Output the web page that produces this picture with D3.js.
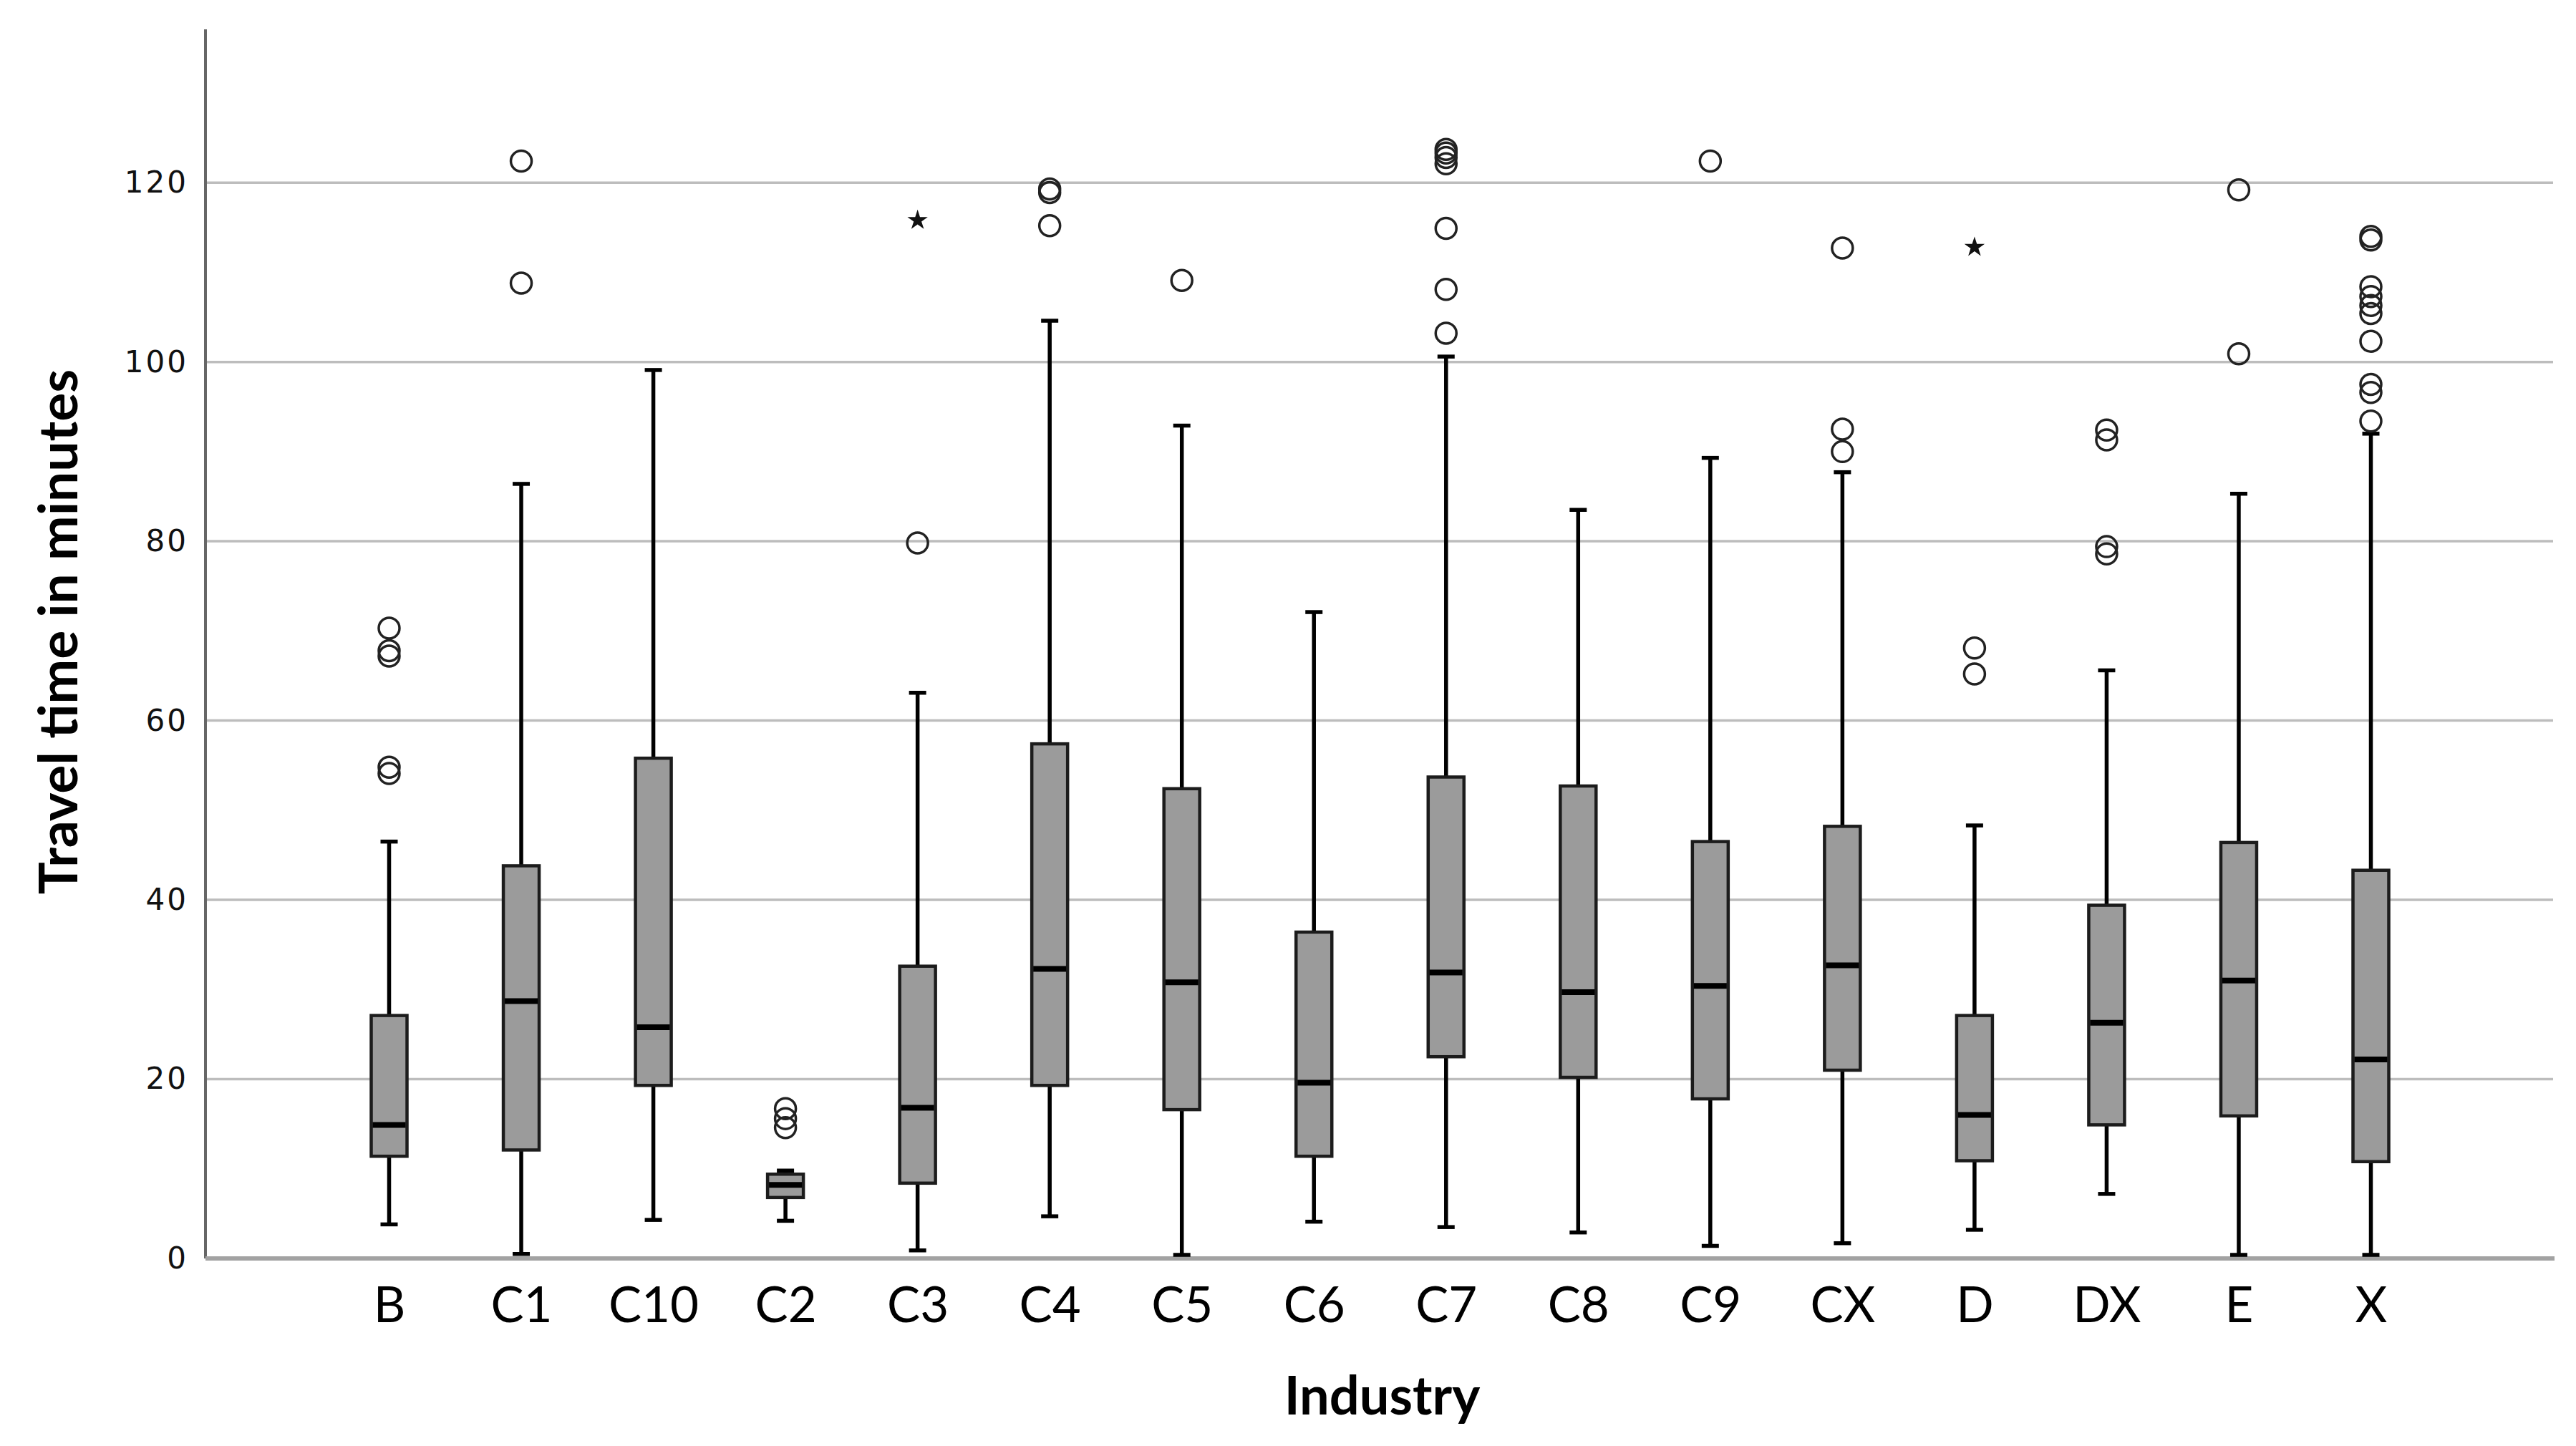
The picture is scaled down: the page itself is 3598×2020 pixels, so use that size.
<!DOCTYPE html>
<html>
<head>
<meta charset="utf-8">
<script src="https://cdn.jsdelivr.net/npm/d3@7"></script>
<style>
  body { margin: 0; background: #fff; }
  svg { display: block; }
</style>
</head>
<body>
<div class="chartContainer"></div>
<script>
// boxplot values (minutes)
var categories = ["B", "C1", "C10", "C2", "C3", "C4", "C5", "C6", "C7", "C8", "C9", "CX", "D", "DX", "E", "X"];
var whiskerLow  = [3.8, 0.5, 4.3, 4.2, 0.9, 4.7, 0.4, 4.1, 3.5, 2.9, 1.4, 1.7, 3.2, 7.2, 0.4, 0.4];
var q1          = [11.4, 12.1, 19.3, 6.8, 8.4, 19.3, 16.6, 11.4, 22.5, 20.2, 17.8, 21.0, 10.9, 14.9, 15.9, 10.8];
var median      = [14.9, 28.7, 25.8, 8.2, 16.8, 32.3, 30.8, 19.6, 31.9, 29.7, 30.4, 32.7, 16.0, 26.3, 31.0, 22.2];
var q3          = [27.1, 43.8, 55.8, 9.4, 32.6, 57.4, 52.4, 36.4, 53.7, 52.7, 46.5, 48.2, 27.1, 39.4, 46.4, 43.3];
var whiskerHigh = [46.5, 86.4, 99.1, 9.8, 63.1, 104.6, 92.9, 72.1, 100.6, 83.5, 89.3, 87.7, 48.3, 65.6, 85.3, 92.0];

// circles (outliers) and stars (extremes)
var outliers = [
    [70.3, 67.8, 67.2, 54.8, 54.1],
    [122.4, 108.8],
    [],
    [16.7, 15.6, 14.6],
    [79.8],
    [119.3, 118.9, 115.2],
    [109.1],
    [],
    [123.7, 123.3, 122.8, 122.1, 114.9, 108.1, 103.2],
    [],
    [122.4],
    [112.7, 92.5, 90.0],
    [68.1, 65.2],
    [92.4, 91.3, 79.4, 78.6],
    [119.2, 100.9],
    [114.0, 113.6, 108.4, 107.3, 106.3, 105.4, 102.3, 97.5, 96.6, 93.4]
];
var extremes = [[], [], [], [], [115.8], [], [], [], [], [], [], [], [112.8], [], [], []];

var yTicks = [0, 20, 40, 60, 80, 100, 120];
var xTitle = "Industry",
    yTitle = "Travel time in minutes";

window.onload = drawChart();

function drawChart(){

    var width = 3598,
        height = 2020;

    var left = 287, right = 3568,
        top = 41, bottom = 1758;

    var svg = d3.select("div.chartContainer")
        .append("svg")
        .attr("width", width)
        .attr("height", height)
        .style("background", "#fff");

    var x = d3.scalePoint()
        .domain(categories)
        .range([left, right])
        .padding(1.39);

    var y = d3.scaleLinear()
        .domain([0, 137.1])
        .range([bottom, top]);

    // gridlines
    svg.append("g")
        .attr("class", "grid")
        .selectAll("line")
        .data(yTicks.filter(function(d){ return d > 0; }))
        .enter()
        .append("line")
        .attr("x1", left)
        .attr("x2", right - 2)
        .attr("y1", function(d){ return y(d); })
        .attr("y2", function(d){ return y(d); })
        .attr("stroke", "#bdbdbd")
        .attr("stroke-width", 3.5);

    // y axis with labels only
    var yAxis = d3.axisLeft(y)
        .tickValues(yTicks)
        .tickSize(0)
        .tickPadding(24);

    var yg = svg.append("g")
        .attr("transform", "translate(" + left + ",0)")
        .call(yAxis);
    yg.select(".domain").remove();
    yg.selectAll("text")
        .attr("font-family", "'DejaVu Sans', sans-serif")
        .attr("font-size", 42)
        .attr("letter-spacing", 3)
        .attr("fill", "#111");

    // x axis labels
    var xAxis = d3.axisBottom(x)
        .tickSize(0)
        .tickPadding(40);

    var xg = svg.append("g")
        .attr("transform", "translate(0," + bottom + ")")
        .call(xAxis);
    xg.select(".domain").remove();
    xg.selectAll("text")
        .attr("font-family", "Lato, sans-serif")
        .attr("font-size", 69)
        .attr("fill", "#000");

    // axis lines
    svg.append("line")
        .attr("x1", left).attr("x2", left)
        .attr("y1", top).attr("y2", bottom)
        .attr("stroke", "#666")
        .attr("stroke-width", 4);

    svg.append("line")
        .attr("x1", left).attr("x2", right)
        .attr("y1", bottom).attr("y2", bottom)
        .attr("stroke", "#a2a2a2")
        .attr("stroke-width", 6);

    var boxW = 50,
        capW = 24;

    var rows = categories.map(function(c, i){
        return {cat: c, lo: whiskerLow[i], q1: q1[i], med: median[i], q3: q3[i], hi: whiskerHigh[i],
                out: outliers[i], ext: extremes[i]};
    });

    var groups = svg.selectAll(".box")
        .data(rows)
        .enter()
        .append("g")
        .attr("class", "box")
        .attr("transform", function(d){ return "translate(" + x(d.cat) + ",0)"; });

    // whiskers
    groups.append("line")
        .attr("x1", 0).attr("x2", 0)
        .attr("y1", function(d){ return y(d.hi); })
        .attr("y2", function(d){ return y(d.lo); })
        .attr("stroke", "#000")
        .attr("stroke-width", 5.5);

    groups.selectAll(".cap")
        .data(function(d){ return [d.lo, d.hi]; })
        .enter()
        .append("line")
        .attr("class", "cap")
        .attr("x1", -capW / 2).attr("x2", capW / 2)
        .attr("y1", function(v){ return y(v); })
        .attr("y2", function(v){ return y(v); })
        .attr("stroke", "#000")
        .attr("stroke-width", 5.5);

    // box
    groups.append("rect")
        .attr("x", -boxW / 2)
        .attr("width", boxW)
        .attr("y", function(d){ return y(d.q3); })
        .attr("height", function(d){ return y(d.q1) - y(d.q3); })
        .attr("fill", "#9b9b9b")
        .attr("stroke", "#1c1c1c")
        .attr("stroke-width", 4.5);

    // median
    groups.append("line")
        .attr("x1", -boxW / 2 + 2).attr("x2", boxW / 2 - 2)
        .attr("y1", function(d){ return y(d.med); })
        .attr("y2", function(d){ return y(d.med); })
        .attr("stroke", "#000")
        .attr("stroke-width", 8);

    // outliers
    groups.selectAll(".outlier")
        .data(function(d){ return d.out; })
        .enter()
        .append("circle")
        .attr("class", "outlier")
        .attr("cx", 0)
        .attr("cy", function(v){ return y(v); })
        .attr("r", 14.5)
        .attr("fill", "none")
        .attr("stroke", "#222")
        .attr("stroke-width", 3.5);

    // extremes
    groups.selectAll(".extreme")
        .data(function(d){ return d.ext; })
        .enter()
        .append("path")
        .attr("class", "extreme")
        .attr("transform", function(v){ return "translate(0," + y(v) + ")"; })
        .attr("d", d3.symbol().type(d3.symbolStar).size(250))
        .attr("fill", "#111");

    // axis titles
    svg.append("text")
        .attr("x", (left + right) / 2 + 3)
        .attr("y", 1976)
        .attr("text-anchor", "middle")
        .attr("font-family", "Lato, sans-serif")
        .attr("font-weight", "bold")
        .attr("font-size", 74)
        .text(xTitle);

    svg.append("text")
        .attr("transform", "translate(108," + ((top + bottom) / 2 - 17) + ") rotate(-90)")
        .attr("text-anchor", "middle")
        .attr("font-family", "Lato, sans-serif")
        .attr("font-weight", "bold")
        .attr("font-size", 75)
        .text(yTitle);
};
</script>
</body>
</html>
